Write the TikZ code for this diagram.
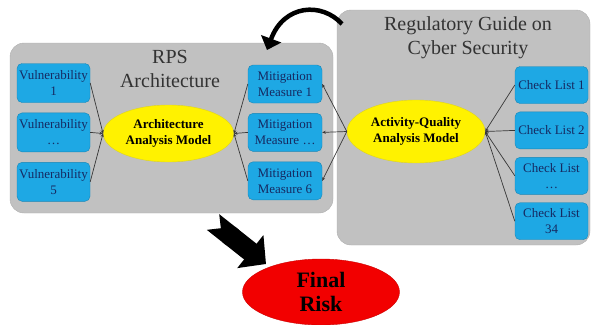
\documentclass[tikz,border=0pt]{standalone}
\usepackage{fontspec}
\setmainfont{Liberation Serif}
\usetikzlibrary{positioning, arrows.meta, shapes.geometric}
\definecolor{panelcol}{RGB}{193, 193, 193}
\definecolor{boxcol}{RGB}{30, 168, 228}
\definecolor{boxtext}{RGB}{22, 42, 98}
\definecolor{linkcol}{RGB}{55, 55, 55}
\tikzset{
  panel/.style={fill=panelcol, draw=panelcol!90!black, rounded corners=14pt},
  title/.style={align=center, text=black!80, font=\fontsize{20}{24}\selectfont},
  item/.style={draw=boxcol!80!black, fill=boxcol, rounded corners=5pt, align=center,
               text=boxtext, inner xsep=1pt, font=\fontsize{13}{16}\selectfont},
  model/.style={ellipse, draw=yellow!85!black, fill=yellow, align=center,
                font=\bfseries\fontsize{13}{16}\selectfont},
  link/.style={-{Stealth[length=3.5pt, width=3pt]}, linkcol, line width=0.7pt},
}

\begin{document}
\begin{tikzpicture}[x=1pt, y=-1pt, node distance=10pt]
  \useasboundingbox (0,0) rectangle (591,324);

  % --- grey panels ---
  \node[panel, minimum width=323pt, minimum height=170pt] (rps) at (171.5,128) {};
  \node[panel, minimum width=253pt, minimum height=235pt] (guide) at (463.5,127.5) {};
  \node[title] (rpstitle) at (170,69) {RPS\\Architecture};
  \node[title] (guidetitle) at (468,38) {Regulatory Guide on\\Cyber Security};

  % --- vulnerabilities ---
  \node[item, minimum width=73pt, minimum height=39pt] (v1) at (53.5,83) {Vulnerability\\1};
  \node[item, minimum width=73pt, minimum height=39pt, below=of v1] (v2) {Vulnerability\\\dots};
  \node[item, minimum width=73pt, minimum height=39pt, below=of v2] (v3) {Vulnerability\\5};

  % --- mitigation measures ---
  \node[item, minimum width=74pt, minimum height=38pt] (m1) at (285,84) {Mitigation\\Measure 1};
  \node[item, minimum width=74pt, minimum height=38pt, below=of m1] (m2) {Mitigation\\Measure \dots};
  \node[item, minimum width=74pt, minimum height=38pt, below=of m2] (m3) {Mitigation\\Measure 6};

  % --- check lists ---
  \node[item, minimum width=73pt, minimum height=37pt] (c1) at (551.5,85) {Check List 1};
  \node[item, minimum width=73pt, minimum height=37pt, below=8pt of c1] (c2) {Check List 2};
  \node[item, minimum width=73pt, minimum height=37pt, below=8pt of c2] (c3) {Check List\\\dots};
  \node[item, minimum width=73pt, minimum height=37pt, below=8pt of c3] (c4) {Check List\\34};

  % --- analysis models ---
  \node[model, minimum width=127pt, minimum height=57pt] (aam) at (168.5,133.5) {Architecture\\Analysis Model};
  \node[model, minimum width=138pt, minimum height=63pt] (aqm) at (416,131.5) {Activity-Quality\\Analysis Model};

  \foreach \v in {v1, v2, v3} \draw[link] (\v.east) -- (aam.west);
  \foreach \m in {m1, m2, m3} \draw[link] (\m.west) -- (aam.east);
  \foreach \m in {m1, m2, m3} \draw[link] (aqm.west) -- (\m.east);
  \foreach \c in {c1, c2, c3, c4} \draw[link] (\c.west) -- (aqm.east);

  % --- final risk ---
  \node[ellipse, fill=red!95!black, draw=red!80!black, minimum width=157pt, minimum height=66pt,
        align=center, font=\bfseries\fontsize{22}{24}\selectfont] (risk) at (321,292) {Final\\Risk};

  % --- big arrows ---
  \coordinate (loopstart) at (342,24);
  \coordinate (loopend) at (267,50);
  \draw[line width=4.5pt, -{Triangle[length=12pt, width=21pt]}]
    (loopstart) .. controls (322,2) and (284,4) .. (loopend);

  \coordinate (pushstart) at (213,222);
  \coordinate (pushend) at (266,264);
  \draw[line width=20pt, {Triangle Cap[reversed]}-{Triangle[length=20pt, width=41pt]}]
    (pushstart) -- (pushend);
\end{tikzpicture}
\end{document}
